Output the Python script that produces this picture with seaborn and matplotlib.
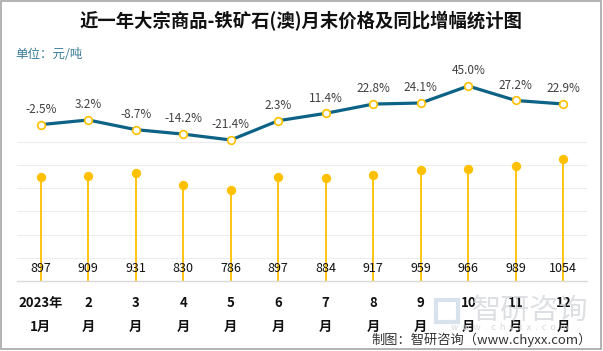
import matplotlib
matplotlib.use("Agg")
import matplotlib.pyplot as plt
import seaborn as sns
import pandas as pd
import numpy as np
from matplotlib.patches import Rectangle

months = ["2023年\n1月", "2\n月", "3\n月", "4\n月", "5\n月", "6\n月", "7\n月", "8\n月", "9\n月", "10\n月", "11\n月", "12\n月"]
prices = [897, 909, 931, 830, 786, 897, 884, 917, 959, 966, 989, 1054]
yoy = [-2.5, 3.2, -8.7, -14.2, -21.4, 2.3, 11.4, 22.8, 24.1, 45.0, 27.2, 22.9]

sns.set_theme(style="white")
plt.rcParams['font.family'] = ['Noto Sans CJK SC', 'DejaVu Sans']

W, H = 603, 351
fig = plt.figure(figsize=(W / 100, H / 100), dpi=100)

def fx(px):
    return px / W

def fy(py):
    return 1 - py / H

# plot area in pixels
L, R, T, B = 17, 587, 71, 281
ax = fig.add_axes([fx(L), fy(B), fx(R) - fx(L), fy(T) - fy(B)])
ax2 = ax.twinx()

df = pd.DataFrame({"x": np.arange(len(months)), "price": prices, "yoy": yoy})

gold = "#FFC000"
blue = "#0D6386"

# primary: price stems
ax.set_ylim(0, 1810)
ax.set_xlim(-0.5, len(months) - 0.5)
for g in range(200, 1201, 200):
    ax.axhline(g, color="#EDEDED", lw=0.8, zorder=0)
ax.vlines(df["x"], 0, df["price"], color=gold, lw=1.3, zorder=2)
sns.scatterplot(data=df, x="x", y="price", ax=ax, color=gold, s=45, edgecolor=gold, linewidth=0, zorder=3, legend=False)
for xi, p in zip(df["x"], prices):
    ax.text(xi, 112, f"{p}", ha="center", va="center", fontsize=9, color="#111111", zorder=4)

# secondary: yoy line
ax2.set_ylim(-195, 63.5)
sns.lineplot(data=df, x="x", y="yoy", ax=ax2, color=blue, lw=2.3, zorder=3, legend=False)
ax2.plot(df["x"], df["yoy"], ls="none", marker="o", ms=5.5, mfc="white", mec=gold, mew=1.2, zorder=4)
for xi, v in zip(df["x"], yoy):
    ax2.annotate(f"{v:.1f}%", (xi, v), xytext=(0, 11), textcoords="offset points", ha="center",
                 va="center", fontsize=8.5, color="#404040")

for a in (ax, ax2):
    for s in a.spines.values():
        s.set_visible(False)
    a.set_ylabel("")
    a.set_xlabel("")
    a.set_yticks([])
ax.spines["bottom"].set_visible(True)
ax.spines["bottom"].set_color("#D9D9D9")
ax.spines["bottom"].set_linewidth(1.0)
ax.set_xticks(df["x"])
ax.set_xticklabels(months, fontsize=9.5, fontweight="bold", color="#111111", linespacing=1.9)
ax.tick_params(axis="x", length=0, pad=11, labelbottom=True)
ax2.tick_params(axis="x", length=0, labelbottom=False)

# titles and notes
fig.text(0.5, fy(21), "近一年大宗商品-铁矿石(澳)月末价格及同比增幅统计图", ha="center", va="center",
         fontsize=13.2, fontweight="bold", color="#111111")
fig.text(fx(15), fy(55), "单位：元/吨", ha="left", va="center", fontsize=9, color="#3A7C98")

# watermark (faint logo)
fig.patches.append(Rectangle((fx(436), fy(322)), fx(22) - fx(0), fy(0) - fy(22), transform=fig.transFigure,
                             fill=False, edgecolor="#D8E2EC", lw=3, zorder=0))
fig.text(fx(530), fy(311), "智研咨询", ha="center", va="center", fontsize=21, color="#D5D8DC", alpha=0.8, zorder=0)
fig.text(fx(510), fy(328), "w  w  w  .  c  h  y  x  x  .  c  o  m", ha="center", va="center", fontsize=6.5,
         color="#D5D8DC", zorder=0)

fig.text(fx(592), fy(340), "制图：智研咨询（www.chyxx.com）", ha="right", va="center", fontsize=9.5, color="#333333")

fig.patches.append(Rectangle((fx(1), fy(349)), fx(601) - fx(1), fy(1) - fy(349), transform=fig.transFigure,
                             fill=False, edgecolor="#A6A6A6", lw=1.2))

fig.savefig("out.png", dpi=100)
